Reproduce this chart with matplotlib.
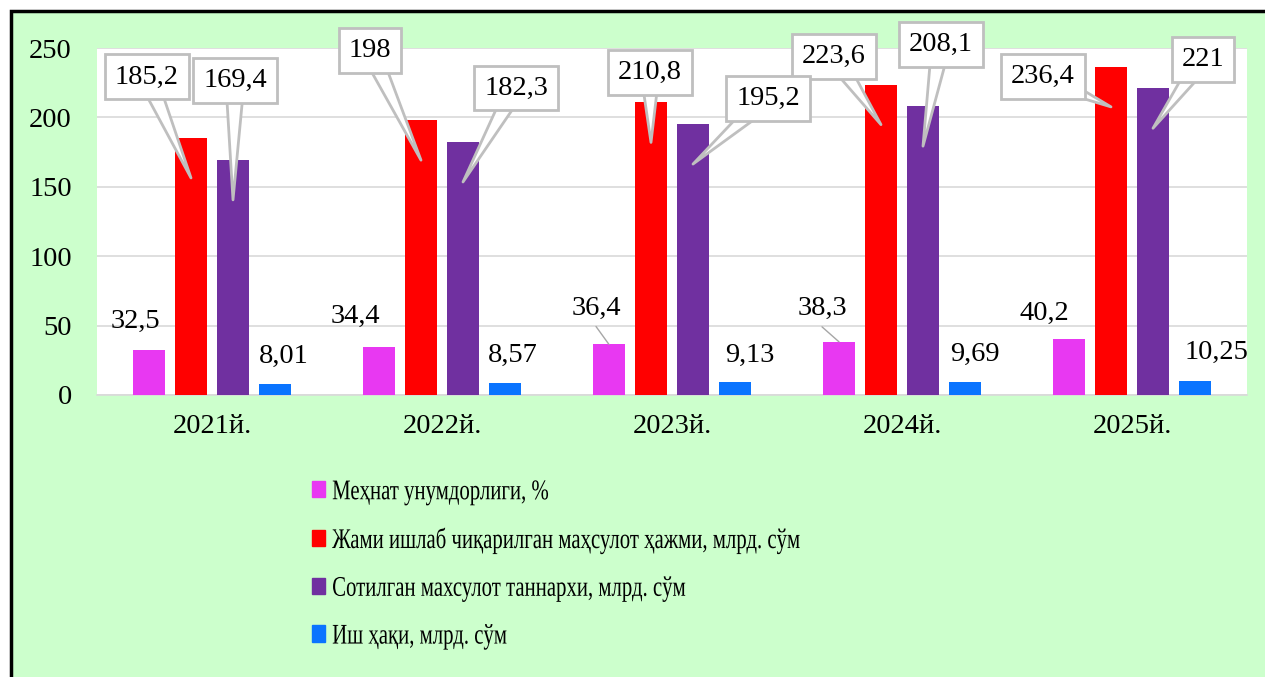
import matplotlib
matplotlib.use("Agg")
import matplotlib.pyplot as plt
import matplotlib.patches as mpatches
from matplotlib.transforms import offset_copy, Affine2D
from matplotlib.patheffects import AbstractPathEffect
import numpy as np

plt.rcParams['font.family'] = ['Liberation Serif', 'DejaVu Serif']

# data
years = ['2021й.', '2022й.', '2023й.', '2024й.', '2025й.']
labour = [32.5, 34.4, 36.4, 38.3, 40.2]
output = [185.2, 198, 210.8, 223.6, 236.4]
cost = [169.4, 182.3, 195.2, 208.1, 221]
wages = [8.01, 8.57, 9.13, 9.69, 10.25]

names = ['Меҳнат унумдорлиги, %',
         'Жами ишлаб чиқарилган маҳсулот ҳажми, млрд. сўм',
         'Сотилган махсулот таннархи, млрд. сўм',
         'Иш ҳақи, млрд. сўм']
colors = ['#E838F2', '#FF0000', '#7030A0', '#0A74FF']

# label offsets in pixels from bar top (dx, dy up)
labour_off = [(-14, 28), (-24, 31), (-13, 36), (-17, 33), (-25, 26)]
labour_leader = [False, False, True, True, False]
output_off = [(-44, 61), (-51, 70), (-1, 30), (-47, 28), (-68, -10)]
cost_off = [(2, 79), (53, 54), (75, 26), (18, 62), (50, 29)]
wages_off = [(9, 27), (8, 28), (15, 27), (10, 27), (21, 28)]


class Condense(AbstractPathEffect):
    # squeeze glyphs horizontally (legend text in the original is narrow)
    def __init__(self, sx):
        super().__init__()
        self.sx = sx

    def draw_path(self, renderer, gc, tpath, affine, rgbFace=None):
        renderer.draw_path(gc, tpath, Affine2D().scale(self.sx, 1) + affine, rgbFace)


fs = 20.5
fig = plt.figure(figsize=(12.65, 6.77), dpi=100)
fig.patch.set_facecolor('white')
bg = mpatches.Rectangle((11 / 1265, -0.1), 1.1, 1.1 - 11 / 677, transform=fig.transFigure,
                        facecolor='#CCFFCC', edgecolor='black', lw=2.5, zorder=-5)
fig.patches.append(bg)

ax = fig.add_axes([97 / 1265, 1 - 395 / 677, 1150 / 1265, 347 / 677])
ax.set_facecolor('white')

x = np.arange(len(years))
w = 0.14
step = 0.1826
series = [labour, output, cost, wages]
bars_x = []
for k, (vals, c) in enumerate(zip(series, colors)):
    pos = x + (k - 1.5) * step
    bars_x.append(pos)
    ax.bar(pos, vals, width=w, color=c, label=names[k], zorder=3)

ax.set_xlim(-0.5, len(years) - 0.5)
ax.set_ylim(0, 250)
ax.set_yticks(range(0, 251, 50))
ax.set_xticks(x)
ax.set_xticklabels(years)
ax.tick_params(axis='both', length=0, labelsize=fs)
ax.tick_params(axis='y', pad=18)
ax.tick_params(axis='x', pad=14)
ax.yaxis.grid(True, color='#D9D9D9', lw=1.2, zorder=0)
for s in ['top', 'right', 'left']:
    ax.spines[s].set_visible(False)
ax.spines['bottom'].set_color('#D9D9D9')
ax.spines['bottom'].set_linewidth(1.2)


def fmt(v):
    return ('%g' % v).replace('.', ',')


# plain labels
for vals, offs, pos in [(labour, labour_off, bars_x[0]), (wages, wages_off, bars_x[3])]:
    for i, v in enumerate(vals):
        tr = offset_copy(ax.transData, fig=fig, x=offs[i][0], y=offs[i][1], units='dots')
        ax.text(pos[i], v, fmt(v), transform=tr, ha='center', va='center',
                fontsize=fs, zorder=6)
for i, v in enumerate(labour):
    if labour_leader[i]:
        dx, dy = labour_off[i]
        ax.annotate('', xy=(bars_x[0][i], v), xytext=(bars_x[0][i], v),
                    textcoords=offset_copy(ax.transData, fig=fig, x=dx, y=dy - 18, units='dots'),
                    arrowprops=dict(arrowstyle='-', color='#A6A6A6', lw=1, shrinkA=0, shrinkB=0),
                    zorder=5)

# callout labels
for vals, offs, pos in [(output, output_off, bars_x[1]), (cost, cost_off, bars_x[2])]:
    for i, v in enumerate(vals):
        dx, dy = offs[i]
        ax.annotate(fmt(v), xy=(pos[i], v),
                    xycoords=offset_copy(ax.transData, fig=fig, y=-40, units='dots'),
                    xytext=(pos[i], v),
                    textcoords=offset_copy(ax.transData, fig=fig, x=dx, y=dy, units='dots'),
                    ha='center', va='center', fontsize=fs, zorder=7,
                    bbox=dict(boxstyle='square,pad=0.35', fc='white', ec='#BFBFBF', lw=2),
                    arrowprops=dict(arrowstyle='wedge,tail_width=0.65', fc='white',
                                    ec='#BFBFBF', lw=2, shrinkA=0, shrinkB=0,
                                    patchA=None))

handles = [mpatches.Patch(color=c, label=n) for c, n in zip(colors, names)]
leg = fig.legend(handles=handles, loc='upper left', bbox_to_anchor=(298 / 1265, 1 - 466 / 677),
                 frameon=False, fontsize=fs, handlelength=0.45, handleheight=0.5,
                 handletextpad=0.25, labelspacing=0.8, borderpad=0)
for t in leg.get_texts():
    t.set_path_effects([Condense(0.73)])

fig.savefig('out.png', dpi=100, facecolor=fig.get_facecolor())
